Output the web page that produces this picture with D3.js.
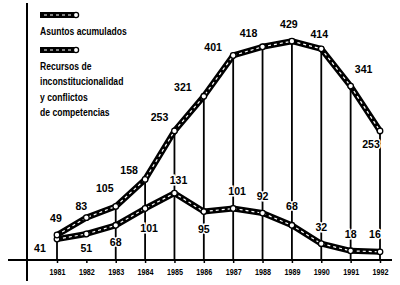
<!DOCTYPE html>
<html><head><meta charset="utf-8">
<script src="https://cdn.jsdelivr.net/npm/d3@7"></script>
<style>
html,body{margin:0;padding:0;background:#fff;}
svg{display:block;}
text{font-family:"Liberation Sans",Arial,sans-serif;font-weight:bold;fill:#000;}
</style></head>
<body>
<svg id="chart" width="400" height="285"></svg>
<script>
const years = [1981,1982,1983,1984,1985,1986,1987,1988,1989,1990,1991,1992];
const asuntos = [49,83,105,158,253,321,401,418,429,414,341,253];
const recursos = [41,51,68,101,131,95,101,92,68,32,18,16];
const legendLabels = [["Asuntos acumulados"],["Recursos de","inconstitucionalidad","y conflictos","de competencias"]];
// label nudges (annotation placement)
const nudgeUpper = [[-1,-17],[-5,-12],[-11,-19],[-16,-10],[-15,-14],[-21,-9],[-20,-9],[-14,-14],[-3,-17],[-2,-15],[13,-17],[-9,13]];
const nudgeLower = [[-17,9],[0,14],[0,17],[4,19],[4,-13],[0,17],[4,-18],[0,-17],[0,-19],[0,-17],[0,-17],[-5,-18]];

const svg = d3.select("#chart");
const x = d3.scaleLinear().domain([1981,1992]).range([57,380]);
const y = d3.scaleLinear().domain([0,500]).range([260,5]);

// axes
svg.append("line").attr("x1",27).attr("x2",27).attr("y1",3).attr("y2",281).attr("stroke","#000").attr("stroke-width",2);
svg.append("line").attr("x1",8).attr("x2",392).attr("y1",260).attr("y2",260).attr("stroke","#000").attr("stroke-width",2);

const xAxis = d3.axisBottom(x).tickValues(years).tickFormat(d3.format("d")).tickSize(3).tickPadding(5);
const gx = svg.append("g").attr("transform","translate(0,260)").call(xAxis);
gx.select(".domain").remove();
gx.selectAll(".tick line").attr("stroke","#000").attr("stroke-width",1.5);
gx.selectAll(".tick text")
  .style("font-size","9px").style("font-family",'"Liberation Sans",Arial,sans-serif').style("font-weight","bold")
  .attr("fill","#000").attr("x",0).attr("y",0).attr("dy",null)
  .attr("dominant-baseline","central")
  .attr("transform","translate(0,12) scale(0.8,1)");

// drop lines
svg.append("g").selectAll("line").data(years.filter(d=>d!==1982)).join("line")
  .attr("x1",d=>x(d)).attr("x2",d=>x(d))
  .attr("y1",(d)=>y(asuntos[years.indexOf(d)]))
  .attr("y2",260).attr("stroke","#000").attr("stroke-width",1.8);

const line = d3.line().x((d,i)=>x(years[i])).y(d=>y(d));

function drawSeries(vals){
  const g = svg.append("g");
  g.append("path").datum(vals).attr("d",line).attr("fill","none").attr("stroke","#000").attr("stroke-width",6).attr("stroke-linejoin","round");
  g.append("path").datum(vals).attr("d",line).attr("fill","none").attr("stroke","#fff").attr("stroke-width",1.2).attr("stroke-dasharray","3,3");
  g.selectAll("circle").data(vals).join("circle")
    .attr("cx",(d,i)=>x(years[i])).attr("cy",d=>y(d)).attr("r",2.8)
    .attr("fill","#fff").attr("stroke","#000").attr("stroke-width",1.3);
}
drawSeries(recursos);
drawSeries(asuntos);

function drawLabels(vals,nudge){
  svg.append("g").selectAll("text").data(vals).join("text")
    .attr("transform",(d,i)=>`translate(${x(years[i])+nudge[i][0]},${y(d)+nudge[i][1]}) scale(0.92,1)`)
    .attr("text-anchor","middle").attr("dominant-baseline","central")
    .style("font-size","11.5px")
    .attr("stroke","#fff").attr("stroke-width",3).attr("paint-order","stroke")
    .text(d=>d);
}
drawLabels(asuntos,nudgeUpper);
drawLabels(recursos,nudgeLower);

// legend
const legendTops = [15,50];
legendLabels.forEach((lines,k)=>{
  const ly = legendTops[k];
  const g = svg.append("g");
  g.append("line").attr("x1",40).attr("x2",75).attr("y1",ly).attr("y2",ly).attr("stroke","#000").attr("stroke-width",6);
  g.append("line").attr("x1",44).attr("x2",72).attr("y1",ly).attr("y2",ly).attr("stroke","#fff").attr("stroke-width",1.2).attr("stroke-dasharray","3,3");
  g.append("circle").attr("cx",76).attr("cy",ly).attr("r",2.6).attr("fill","#fff").attr("stroke","#000").attr("stroke-width",1.3);
  lines.forEach((t,j)=>{
    g.append("text").attr("transform",`translate(40,${ly+20+j*15.3}) scale(0.78,1)`).style("font-size","11px").text(t);
  });
});
</script>
</body></html>
